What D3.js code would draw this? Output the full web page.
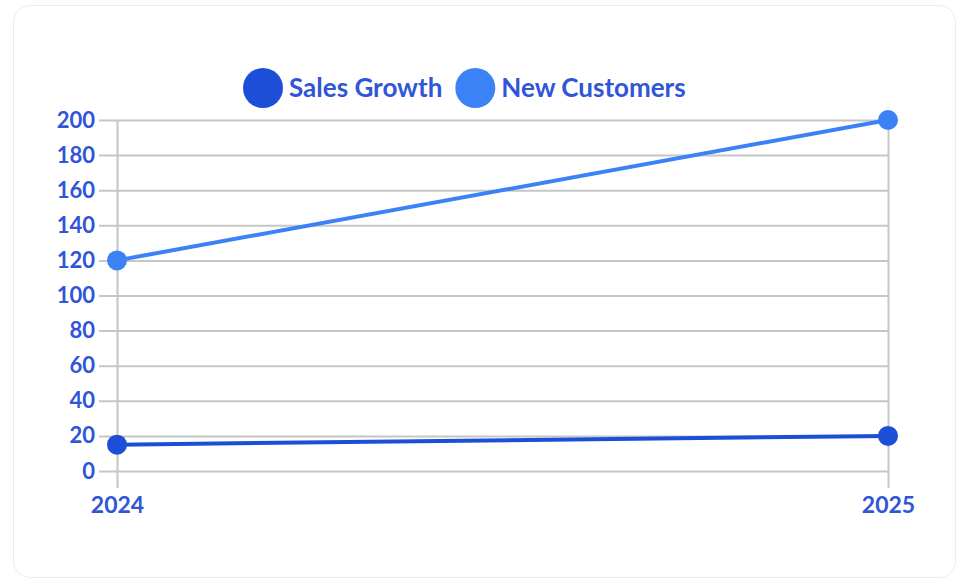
<!DOCTYPE html>
<html>
<head>
<meta charset="utf-8">
<script src="https://cdn.jsdelivr.net/npm/d3@7"></script>
<style>
	html, body { margin: 0; padding: 0; background: #fff; }
	svg { display: block; }
</style>
</head>
<body>
<svg id="chart" width="957" height="579"></svg>
<script>
// chart data
const years = ['2024', '2025'];
const salesGrowth = [15, 20];
const newCustomers = [120, 200];
const yTicks = [0, 20, 40, 60, 80, 100, 120, 140, 160, 180, 200];

const seriesList = [
	{name: 'Sales Growth', values: salesGrowth, color: '#1d4ed8'},
	{name: 'New Customers', values: newCustomers, color: '#3b82f6'}
];

const textColor = '#2f55d9';
const gridColor = '#c6c6c6';
const font = 'Lato, "Open Sans", sans-serif';

const svg = d3.select('#chart');

// card background
svg.append('rect')
	.attr('x', 13.5).attr('y', 5.5)
	.attr('width', 942).attr('height', 572)
	.attr('rx', 16)
	.attr('fill', '#fff')
	.attr('stroke', '#ececec');

const x = d3.scalePoint().domain(years).range([117, 888]);
const y = d3.scaleLinear().domain([0, 200]).range([471, 120]);

// horizontal grid + y labels
const yAxis = svg.append('g')
	.attr('transform', 'translate(117,0)')
	.call(d3.axisLeft(y).tickValues(yTicks).tickSize(-771).tickPadding(22));
yAxis.select('.domain').remove();
yAxis.selectAll('line')
	.attr('x1', -18)
	.attr('stroke', gridColor).attr('stroke-width', 2);
yAxis.selectAll('text')
	.attr('fill', textColor)
	.style('font', `bold 22px ${font}`);

// vertical grid + x labels
const xAxis = svg.append('g')
	.attr('transform', 'translate(0,120)')
	.call(d3.axisBottom(x).tickSize(368).tickPadding(9));
xAxis.select('.domain').remove();
xAxis.selectAll('line').attr('stroke', gridColor).attr('stroke-width', 2);
xAxis.selectAll('text')
	.attr('fill', textColor)
	.style('font', `bold 23px ${font}`);

// lines and points
const line = d3.line()
	.x((d, i) => x(years[i]))
	.y(d => y(d));

seriesList.forEach(s => {
	svg.append('path')
		.datum(s.values)
		.attr('d', line)
		.attr('fill', 'none')
		.attr('stroke', s.color)
		.attr('stroke-width', 4);

	svg.selectAll(null)
		.data(s.values)
		.join('circle')
		.attr('cx', (d, i) => x(years[i]))
		.attr('cy', d => y(d))
		.attr('r', 10)
		.attr('fill', s.color);
});

// legend
const legend = svg.append('g').attr('transform', 'translate(0,88)');
let lx = 243;
seriesList.forEach(s => {
	legend.append('circle')
		.attr('cx', lx + 20).attr('cy', 0)
		.attr('r', 20)
		.attr('fill', s.color);
	const t = legend.append('text')
		.attr('x', lx + 46).attr('y', 0)
		.attr('dy', '0.35em')
		.attr('fill', textColor)
		.style('font', `bold 26px ${font}`)
		.text(s.name);
	lx += 46 + t.node().getComputedTextLength() + 13;
});
</script>
</body>
</html>
